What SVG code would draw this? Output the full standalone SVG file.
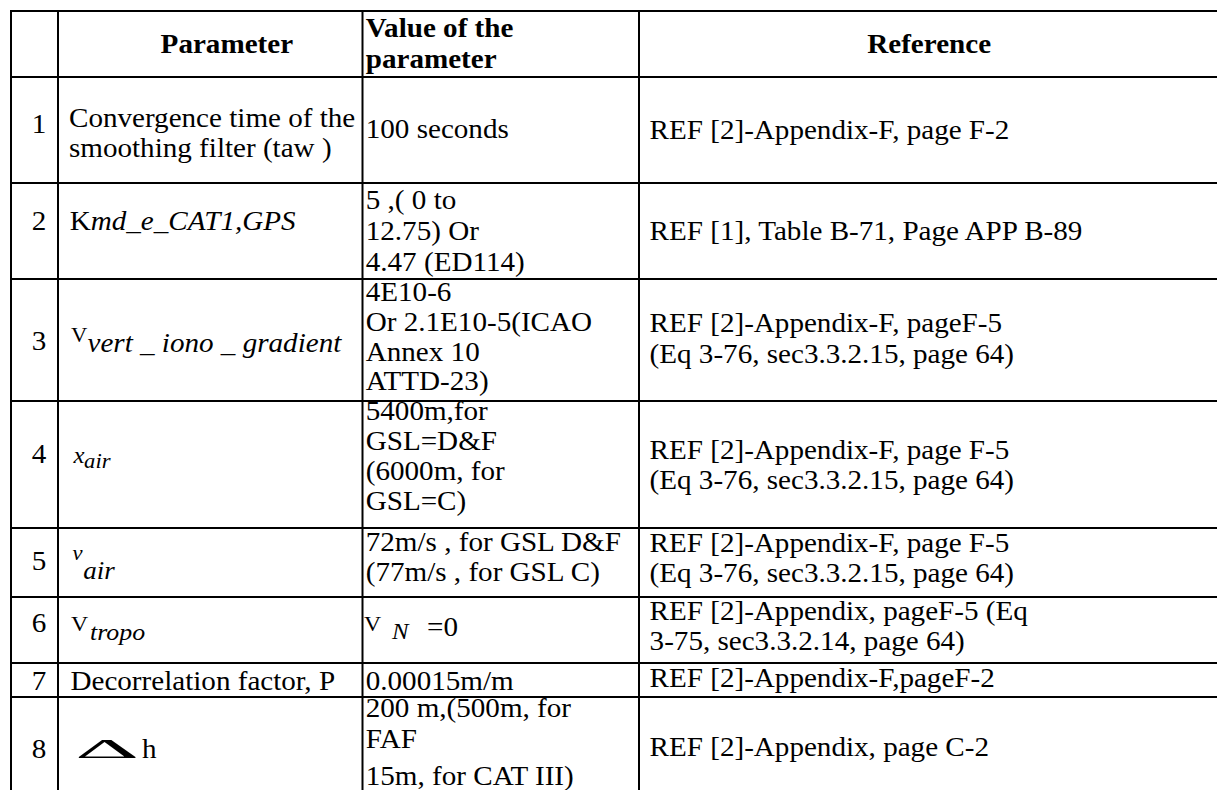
<svg xmlns="http://www.w3.org/2000/svg" width="1217" height="790" viewBox="0 0 1217 790">
  <style>
    .grid line { stroke: #000; stroke-width: 2; }
    .b { font-weight: bold; }
    .i { font-style: italic; }
    .num { text-anchor: middle; }
  </style>
  <rect x="0" y="0" width="1217" height="790" fill="#fff"/>

  <!-- table rules -->
  <g id="grid" class="grid">
    <line x1="10" y1="11" x2="1217" y2="11"/>
    <line x1="11" y1="10" x2="11" y2="790"/>
    <line x1="58" y1="10" x2="58" y2="790"/>
    <line x1="362.5" y1="10" x2="362.5" y2="790"/>
    <line x1="639" y1="10" x2="639" y2="790"/>
    <line x1="10" y1="77" x2="1217" y2="77"/>
    <line x1="10" y1="183" x2="1217" y2="183"/>
    <line x1="10" y1="279" x2="1217" y2="279"/>
    <line x1="10" y1="401" x2="1217" y2="401"/>
    <line x1="10" y1="528" x2="1217" y2="528"/>
    <line x1="10" y1="597" x2="1217" y2="597"/>
    <line x1="10" y1="663" x2="1217" y2="663"/>
    <line x1="10" y1="697" x2="1217" y2="697"/>
  </g>

  <g font-family="'Liberation Serif', 'Times New Roman', 'DejaVu Serif', serif" font-size="27" fill="#000">
  <!-- cell text; glyphs are slightly wide, so x positions are given in the 1.078-scaled frame -->
  <g transform="scale(1.078 1)">
    <g id="header">
      <text class="b" x="149.0" y="53">Parameter</text>
      <text class="b" x="339.3" y="37">Value of the</text>
      <text class="b" x="339.3" y="68">parameter</text>
      <text class="b" x="804.5" y="53">Reference</text>
    </g>

    <g id="row1">
      <text class="num" x="36.2" y="133">1</text>
      <text x="64.0" y="127">Convergence time of the</text>
      <text x="64.0" y="157">smoothing filter (taw )</text>
      <text x="339.3" y="138">100 seconds</text>
      <text x="602.6" y="139">REF [2]-Appendix-F, page F-2</text>
    </g>

    <g id="row2">
      <text class="num" x="36.2" y="230">2</text>
      <text x="64.6" y="230">K<tspan class="i">md_e_CAT1,GPS</tspan></text>
      <text x="339.3" y="209">5 ,( 0 to</text>
      <text x="339.3" y="240">12.75) Or</text>
      <text x="339.3" y="271">4.47 (ED114)</text>
      <text x="602.6" y="240">REF [1], Table B-71, Page APP B-89</text>
    </g>

    <g id="row3">
      <text class="num" x="36.2" y="350">3</text>
      <text x="65.9" y="342" font-size="21">V<tspan class="i" x="81.2" dy="10" font-size="27">vert _ iono _ gradient</tspan></text>
      <text x="339.3" y="301">4E10-6</text>
      <text x="339.3" y="331">Or 2.1E10-5(ICAO</text>
      <text x="339.3" y="361">Annex 10</text>
      <text x="339.3" y="390">ATTD-23)</text>
      <text x="602.6" y="332">REF [2]-Appendix-F, pageF-5</text>
      <text x="602.6" y="363">(Eq 3-76, sec3.3.2.15, page 64)</text>
    </g>

    <g id="row4">
      <text class="num" x="36.2" y="463">4</text>
      <text class="i" x="68.2" y="463" font-size="23">x<tspan x="78.0" dy="5" font-size="21">air</tspan></text>
      <text x="339.3" y="420">5400m,for</text>
      <text x="339.3" y="450">GSL=D&amp;F</text>
      <text x="339.3" y="480">(6000m, for</text>
      <text x="339.3" y="510">GSL=C)</text>
      <text x="602.6" y="459">REF [2]-Appendix-F, page F-5</text>
      <text x="602.6" y="489">(Eq 3-76, sec3.3.2.15, page 64)</text>
    </g>

    <g id="row5">
      <text class="num" x="36.2" y="570">5</text>
      <text class="i" x="67.3" y="560" font-size="21">v<tspan x="77.3" dy="19" font-size="25">air</tspan></text>
      <text x="339.3" y="551">72m/s , for GSL D&amp;F</text>
      <text x="339.3" y="581">(77m/s , for GSL C)</text>
      <text x="602.6" y="552">REF [2]-Appendix-F, page F-5</text>
      <text x="602.6" y="582">(Eq 3-76, sec3.3.2.15, page 64)</text>
    </g>

    <g id="row6">
      <text class="num" x="36.2" y="632">6</text>
      <text x="65.9" y="631" font-size="22">V<tspan class="i" x="83.5" dy="9" font-size="24">tropo</tspan></text>
      <text x="337.6" y="631" font-size="22">V<tspan class="i" x="363.6" dy="8" font-size="23">N</tspan><tspan x="396.1" dy="-3" font-size="27">=0</tspan></text>
      <text x="602.6" y="620">REF [2]-Appendix, pageF-5 (Eq</text>
      <text x="602.6" y="650">3-75, sec3.3.2.14, page 64)</text>
    </g>

    <g id="row7">
      <text class="num" x="36.2" y="690">7</text>
      <text x="65.4" y="690">Decorrelation factor, P</text>
      <text x="339.3" y="690">0.00015m/m</text>
      <text x="602.6" y="687">REF [2]-Appendix-F,pageF-2</text>
    </g>

    <g id="row8">
      <text class="num" x="36.2" y="758">8</text>
      <text x="131.7" y="758">h</text>
      <text x="339.3" y="717">200 m,(500m, for</text>
      <text x="339.3" y="748">FAF</text>
      <text x="339.3" y="785">15m, for CAT III)</text>
      <text x="602.6" y="756">REF [2]-Appendix, page C-2</text>
    </g>
  </g>

  <!-- wide delta symbol in row 8 -->
  <text id="delta" transform="translate(75 758) scale(3.7 1)">Δ</text>
  </g>
</svg>
